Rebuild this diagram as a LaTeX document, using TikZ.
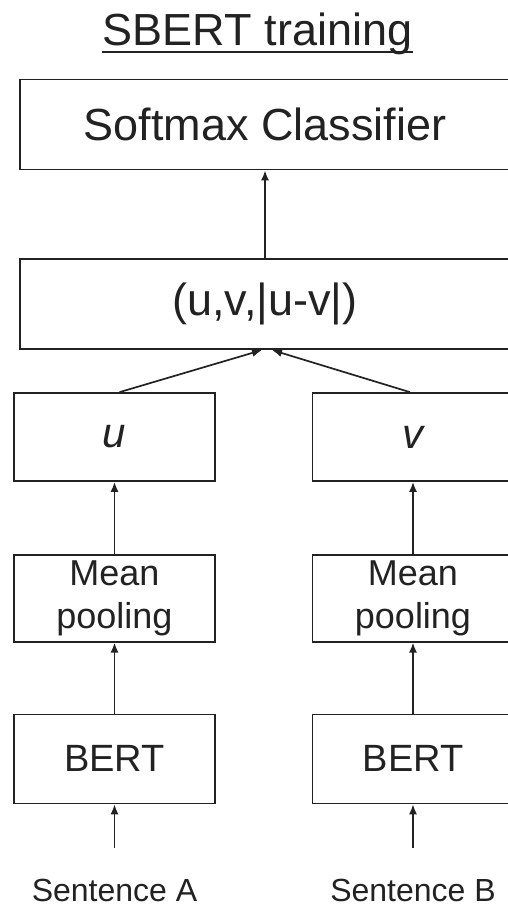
\documentclass[tikz,border=0pt]{standalone}
\usepackage{fontspec}
\setmainfont{Liberation Sans}
\usepackage{tikz}
\usetikzlibrary{positioning,arrows.meta}
\definecolor{sbink}{HTML}{222222}

\begin{document}
\begin{tikzpicture}[
  x=1pt, y=-1pt, line width=1.7pt, sbink,
  blk/.style={draw=sbink, line width=1.7pt, inner sep=0pt, align=center, text=sbink},
  wide/.style={blk, minimum width=490pt, minimum height=90pt,
    font=\fontsize{45}{54}\selectfont},
  col/.style={blk, minimum width=201pt, minimum height=88pt},
  sent/.style={inner sep=0pt, anchor=base, text=sbink,
    font=\fontsize{32}{38}\selectfont},
  arr/.style={-{Latex[length=10pt,width=8pt]}, line width=1.7pt, draw=sbink},
  ]
  \useasboundingbox (0,0) rectangle (508,908);
  \clip (0,0) rectangle (508,908);

  % title
  \node[anchor=base, inner sep=0pt, font=\fontsize{45}{54}\selectfont] (title)
    at (257.5,45) {SBERT training};
  \draw[line width=1.7pt] ([yshift=-7pt]title.base west) -- ([yshift=-7pt]title.base east);

  % shared top
  \node[wide] (clf) at (265,124.5) {Softmax Classifier};
  \node[wide, below=88pt of clf] (cat) {(u,v,|u-v|)};

  % two towers
  \node[col, font=\fontsize{42}{50}\selectfont\itshape] (u) at (114.5,437) {\raisebox{-6pt}{u}};
  \node[col, font=\fontsize{42}{50}\selectfont\itshape] (v) at (413,437) {\raisebox{-6pt}{v}};
  \node[col, minimum height=87pt, below=72pt of u, font=\fontsize{36}{43}\selectfont] (poolA)
    {\raisebox{-5pt}{Mean}\\\raisebox{-5pt}{pooling}};
  \node[col, minimum height=87pt, below=72pt of v, font=\fontsize{36}{43}\selectfont] (poolB)
    {\raisebox{-5pt}{Mean}\\\raisebox{-5pt}{pooling}};
  \node[col, minimum height=89pt, below=71pt of poolA, font=\fontsize{38}{46}\selectfont] (bertA) {BERT};
  \node[col, minimum height=89pt, below=71pt of poolB, font=\fontsize{38}{46}\selectfont] (bertB) {BERT};
  \node[sent] (sA) at (114.5,901) {Sentence A};
  \node[sent] (sB) at (413,901) {Sentence B};
  \coordinate[above=30pt of sA] (inA);
  \coordinate[above=30pt of sB] (inB);

  % arrows
  \draw[arr] (cat) -- (clf);
  \draw[arr] ([xshift=5pt]u.north) -- ([xshift=-3pt]cat.south);
  \draw[arr] ([xshift=-3pt]v.north) -- ([xshift=7pt]cat.south);
  \draw[arr] (poolA) -- (u);
  \draw[arr] (poolB) -- (v);
  \draw[arr] (bertA) -- (poolA);
  \draw[arr] (bertB) -- (poolB);
  \draw[arr] (inA) -- (bertA.south);
  \draw[arr] (inB) -- (bertB.south);
\end{tikzpicture}
\end{document}
